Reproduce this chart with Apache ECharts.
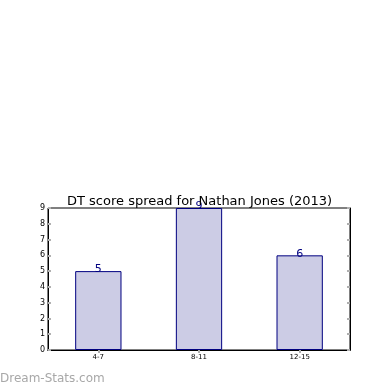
<!DOCTYPE html>
<html><head><meta charset="utf-8">
<script src="https://cdn.jsdelivr.net/npm/echarts@6/dist/echarts.min.js"></script>
<style>html,body{margin:0;padding:0;background:#fff}#c{width:390px;height:390px}</style>
</head><body><div id="c"></div>
<script>
const categories = ['4-7', '8-11', '12-15'];
const values = [5, 9, 6];
const yTicks = [0, 1, 2, 3, 4, 5, 6, 7, 8, 9];

const chart = echarts.init(document.getElementById('c'), null, {renderer: 'canvas'});
const tickStyle = {show: true, inside: true, length: 3, lineStyle: {color: '#b0b0b0', width: 2}};
chart.setOption({
  animation: false,
  title: {
    text: 'DT score spread for Nathan Jones (2013)',
    left: 62, top: 190,
    textStyle: {fontFamily: 'DejaVu Sans', fontSize: 13, fontWeight: 'normal', color: '#000'}
  },
  graphic: [{
    type: 'text', left: 0, top: 373,
    style: {text: 'Dream-Stats.com', font: '12px "DejaVu Sans"', fill: '#a8a8a8'}
  }],
  grid: {left: 48, right: 40, top: 208, bottom: 40, show: true, borderColor: '#000', borderWidth: 1},
  xAxis: [{
    type: 'category', data: categories, position: 'bottom',
    axisLine: {lineStyle: {color: '#000'}},
    axisTick: Object.assign({alignWithLabel: true}, tickStyle),
    axisLabel: {fontFamily: 'DejaVu Sans', fontSize: 7, color: '#000', margin: 4}
  }, {
    type: 'category', data: categories, position: 'top',
    axisLine: {lineStyle: {color: '#000'}},
    axisTick: Object.assign({alignWithLabel: true}, tickStyle),
    axisLabel: {show: false}
  }],
  yAxis: [{
    type: 'value', min: 0, max: 9, interval: 1,
    axisLine: {show: true, lineStyle: {color: '#000'}},
    axisTick: tickStyle,
    splitLine: {show: false},
    axisLabel: {fontFamily: 'DejaVu Sans', fontSize: 8, color: '#000', margin: 3,
      formatter: v => yTicks.includes(v) ? String(v) : ''}
  }, {
    type: 'value', min: 0, max: 9, interval: 1, position: 'right',
    axisLine: {show: true, lineStyle: {color: '#000'}},
    axisTick: tickStyle,
    splitLine: {show: false},
    axisLabel: {show: false}
  }],
  series: [{
    type: 'bar', data: values, barWidth: '46%',
    itemStyle: {color: '#ccccE5', borderColor: '#000080', borderWidth: 1},
    label: {show: true, position: 'top', distance: -4, color: '#000080',
      fontFamily: 'DejaVu Sans', fontSize: 11}
  }]
});
</script></body></html>
